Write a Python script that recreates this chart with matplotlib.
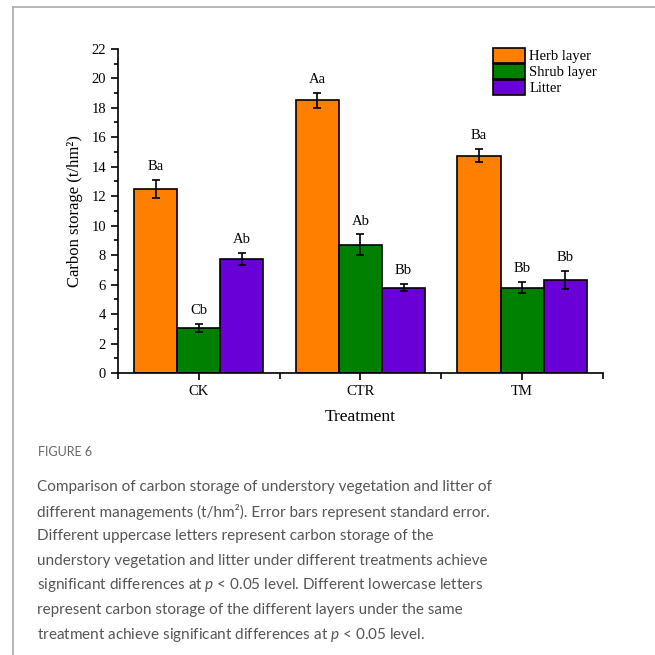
import numpy as np
from matplotlib import pyplot as plt
from matplotlib.ticker import MultipleLocator, FixedLocator

treatments = ["CK", "CTR", "TM"]
layers = ["Herb layer", "Shrub layer", "Litter"]
herb = [12.5, 18.5, 14.75]
herb_se = [0.6, 0.5, 0.45]
shrub = [3.05, 8.7, 5.8]
shrub_se = [0.25, 0.7, 0.35]
litter = [7.75, 5.8, 6.33]
litter_se = [0.4, 0.22, 0.6]
letters_herb = ["Ba", "Aa", "Ba"]
letters_shrub = ["Cb", "Ab", "Bb"]
letters_litter = ["Ab", "Bb", "Bb"]

colors = ["#FF8000", "#008000", "#6A00D8"]
serif = ["Liberation Serif", "DejaVu Serif"]
capfont = "Lato"

plt.rcParams["mathtext.fontset"] = "custom"
plt.rcParams["mathtext.it"] = capfont + ":italic"
plt.rcParams["mathtext.rm"] = capfont

fig = plt.figure(figsize=(6.55, 6.55), dpi=100)
ax = fig.add_axes([0.180, 0.4305, 0.7405, 0.495])

x = np.arange(len(treatments))
w = 0.267
series = [(herb, herb_se, letters_herb), (shrub, shrub_se, letters_shrub),
          (litter, litter_se, letters_litter)]
for i, (vals, se, lets) in enumerate(series):
  pos = x + (i - 1) * w
  ax.bar(pos, vals, w, color=colors[i], edgecolor="black", linewidth=1.2,
         label=layers[i], zorder=2)
  ax.errorbar(pos, vals, yerr=se, fmt="none", ecolor="black", elinewidth=1.2,
              capsize=3.2, capthick=1.2, zorder=3)
  for p, v, e, t in zip(pos, vals, se, lets):
    ax.annotate(t, (p, v + e), xytext=(0, 5), textcoords="offset points",
                ha="center", va="bottom", fontsize=10.5, family=serif)

ax.set_xlim(-0.5, 2.5)
ax.set_ylim(0, 22)
ax.set_xticks(x)
ax.set_xticklabels(treatments, family=serif, fontsize=10.5)
ax.xaxis.set_minor_locator(FixedLocator([-0.5, 0.5, 1.5, 2.5]))
ax.yaxis.set_major_locator(MultipleLocator(2))
ax.yaxis.set_minor_locator(MultipleLocator(1))
for lab in ax.get_yticklabels():
  lab.set_family(serif)
  lab.set_fontsize(10.5)
ax.tick_params(which="major", direction="out", length=5, width=1.2)
ax.tick_params(which="minor", direction="out", length=3, width=1.2)
ax.tick_params(axis="x", which="minor", length=4)
for s in ["top", "right"]:
  ax.spines[s].set_visible(False)
for s in ["left", "bottom"]:
  ax.spines[s].set_linewidth(1.2)

ax.set_xlabel("Treatment", family=serif, fontsize=12.5, labelpad=8)
ax.set_ylabel("Carbon storage (t/hm\u00b2)", family=serif, fontsize=12, labelpad=6)

leg = ax.legend(loc="upper left", bbox_to_anchor=(0.755, 1.03), frameon=False,
                prop={"family": serif, "size": 10.5}, handlelength=2.2,
                handleheight=1.2, labelspacing=0.05, handletextpad=0.3,
                borderaxespad=0.2)
for h in leg.legend_handles:
  h.set_linewidth(1.2)

# page frame lines
fig.add_artist(plt.Line2D([13 / 655, 13 / 655], [0, 1 - 7 / 655], color="#aaaaaa", lw=1.2))
fig.add_artist(plt.Line2D([13 / 655, 1], [1 - 7 / 655, 1 - 7 / 655], color="#aaaaaa", lw=1.2))

cap = ["Comparison of carbon storage of understory vegetation and litter of",
       "different managements (t/hm\u00b2). Error bars represent standard error.",
       "Different uppercase letters represent carbon storage of the",
       "understory vegetation and litter under different treatments achieve",
       "significant differences at $p$ < 0.05 level. Different lowercase letters",
       "represent carbon storage of the different layers under the same",
       "treatment achieve significant differences at $p$ < 0.05 level."]
fig.text(38 / 655, 1 - 452 / 655, "FIGURE 6", family=capfont, fontsize=9,
         color="#666666", va="center")
for k, line in enumerate(cap):
  fig.text(37 / 655, 1 - (487 + 24.6 * k) / 655, line, family=capfont,
           fontsize=11, color="#555555", va="center")

fig.savefig("out.png", dpi=100)
